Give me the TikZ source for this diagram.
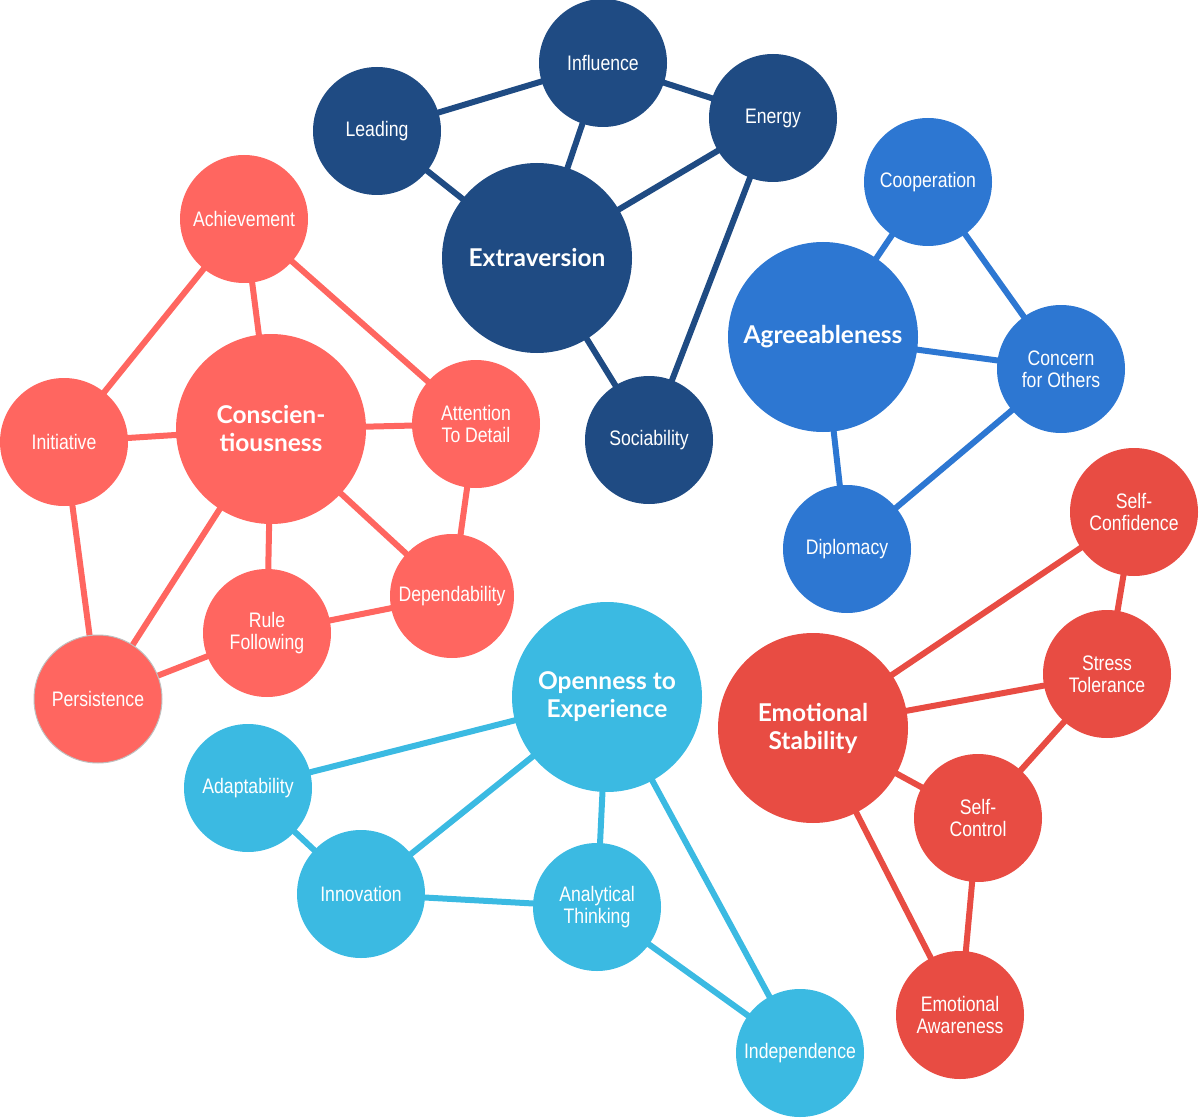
\documentclass[tikz,border=0pt]{standalone}
\usepackage{fontspec}
\usetikzlibrary{backgrounds}
\newfontfamily\smallfnt[FakeStretch=0.84]{Liberation Sans}
\newfontfamily\bigfnt{Lato}
\definecolor{cExt}{HTML}{1F4B83}
\definecolor{cAgr}{HTML}{2D77D2}
\definecolor{cCon}{HTML}{FF6660}
\definecolor{cOpe}{HTML}{3BBAE2}
\definecolor{cEmo}{HTML}{E84C43}
\tikzset{
  sub/.style={circle,inner sep=0pt,minimum size=128pt,text=white,align=center,
    font=\smallfnt\fontsize{21}{22}\selectfont},
  main/.style={circle,inner sep=0pt,minimum size=190pt,text=white,align=center,
    font=\bigfnt\bfseries\fontsize{24.5}{28}\selectfont},
  link/.style={line width=6pt}
}
\begin{document}
\begin{tikzpicture}[x=1pt,y=-1pt]
\useasboundingbox (0,0) rectangle (1200,1118);
% Extraversion
\begin{scope}[every node/.append style={fill=cExt}]
\node[main] (ext) at (537,258) {Extraversion};
\node[sub] (lead) at (377,131) {Leading};
\node[sub] (infl) at (603,63) {Influence};
\node[sub] (ener) at (773,118) {Energy};
\node[sub] (soci) at (649,440) {Sociability};
\end{scope}
% Agreeableness
\begin{scope}[every node/.append style={fill=cAgr}]
\node[main] (agr) at (823,337) {Agreeableness};
\node[sub] (coop) at (928,182) {Cooperation};
\node[sub] (conc) at (1061,369) {Concern\\for Others};
\node[sub] (dipl) at (847,549) {Diplomacy};
\end{scope}
% Conscientiousness
\begin{scope}[every node/.append style={fill=cCon}]
\node[main] (con) at (271,429) {Conscien-\\tiousness};
\node[sub] (achi) at (244,219) {Achievement};
\node[sub] (init) at (64,442) {Initiative};
\node[sub] (atte) at (476,424) {Attention\\To Detail};
\node[sub,minimum size=124pt] (depe) at (452,596) {Dependability};
\node[sub] (rule) at (267,633) {Rule\\Following};
\node[sub,draw=gray!50,line width=1pt] (pers) at (98,699) {Persistence};
\end{scope}
% Openness
\begin{scope}[every node/.append style={fill=cOpe}]
\node[main] (ope) at (607,697) {Openness to\\Experience};
\node[sub] (adap) at (248,788) {Adaptability};
\node[sub] (inno) at (361,894) {Innovation};
\node[sub] (anal) at (597,907) {Analytical\\Thinking};
\node[sub] (inde) at (800,1053) {Independence};
\end{scope}
% Emotional Stability
\begin{scope}[every node/.append style={fill=cEmo}]
\node[main] (emo) at (813,728) {Emotional\\Stability};
\node[sub] (sconf) at (1134,512) {Self-\\Confidence};
\node[sub] (stre) at (1107,674) {Stress\\Tolerance};
\node[sub] (sctl) at (978,818) {Self-\\Control};
\node[sub] (eaw) at (960,1015) {Emotional\\Awareness};
\end{scope}
% links behind
\begin{scope}[on background layer]
\draw[link,cExt] (lead.center) -- (infl.center) -- (ener.center);
\draw[link,cExt] (lead.center) -- (ext.center);
\draw[link,cExt] (infl.center) -- (ext.center);
\draw[link,cExt] (ener.center) -- (ext.center);
\draw[link,cExt] (ener.center) -- (soci.center);
\draw[link,cExt] (ext.center) -- (soci.center);
\draw[link,cAgr] (agr.center) -- (coop.center);
\draw[link,cAgr] (coop.center) -- (conc.center);
\draw[link,cAgr] (agr.center) -- (conc.center);
\draw[link,cAgr] (agr.center) -- (dipl.center);
\draw[link,cAgr] (dipl.center) -- (conc.center);
\draw[link,cCon] (achi.center) -- (init.center);
\draw[link,cCon] (achi.center) -- (con.center);
\draw[link,cCon] (achi.center) -- (atte.center);
\draw[link,cCon] (init.center) -- (con.center);
\draw[link,cCon] (con.center) -- (atte.center);
\draw[link,cCon] (atte.center) -- (depe.center);
\draw[link,cCon] (con.center) -- (depe.center);
\draw[link,cCon] (con.center) -- (rule.center);
\draw[link,cCon] (con.center) -- (pers.center);
\draw[link,cCon] (init.center) -- (pers.center);
\draw[link,cCon] (pers.center) -- (rule.center);
\draw[link,cCon] (rule.center) -- (depe.center);
\draw[link,cOpe] (ope.center) -- (adap.center);
\draw[link,cOpe] (adap.center) -- (inno.center);
\draw[link,cOpe] (inno.center) -- (ope.center);
\draw[link,cOpe] (inno.center) -- (anal.center);
\draw[link,cOpe] (anal.center) -- (ope.center);
\draw[link,cOpe] (ope.center) -- (inde.center);
\draw[link,cOpe] (anal.center) -- (inde.center);
\draw[link,cEmo] (emo.center) -- (sconf.center);
\draw[link,cEmo] (sconf.center) -- (stre.center);
\draw[link,cEmo] (emo.center) -- (stre.center);
\draw[link,cEmo] (stre.center) -- (sctl.center);
\draw[link,cEmo] (emo.center) -- (sctl.center);
\draw[link,cEmo] (sctl.center) -- (eaw.center);
\draw[link,cEmo] (emo.center) -- (eaw.center);
\end{scope}
\end{tikzpicture}
\end{document}
